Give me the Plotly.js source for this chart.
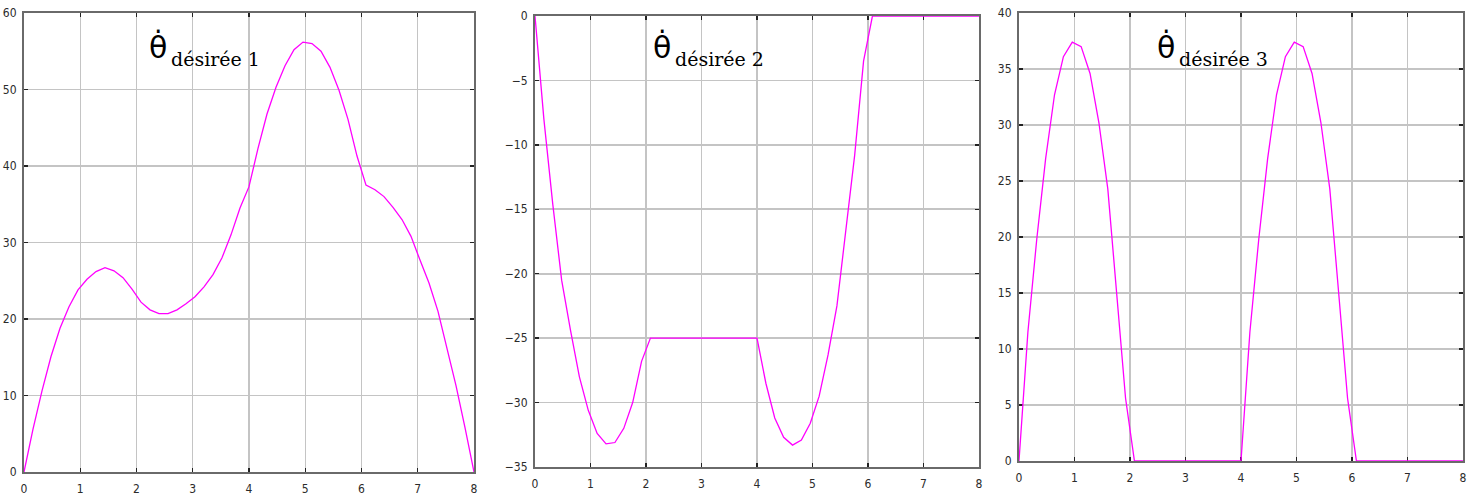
<!DOCTYPE html>
<html>
<head>
<meta charset="utf-8">
<script src="https://cdn.plot.ly/plotly-3.0.1.min.js"></script>
<style>
html,body{margin:0;padding:0;background:#fff;}
#chart{width:1471px;height:499px;}
</style>
</head>
<body>
<div id="chart"></div>
<script>
// time samples (s)
const t = [0,0.16,0.32,0.48,0.64,0.80,0.96,1.12,1.28,1.44,1.60,1.76,1.92,2.08,
  2.24,2.40,2.56,2.72,2.88,3.04,3.20,3.36,3.52,3.68,3.84,
  4.00,4.16,4.32,4.48,4.64,4.80,4.96,5.12,5.28,5.44,5.60,5.76,5.92,6.08,
  6.24,6.40,6.56,6.72,6.88,7.04,7.20,7.36,7.52,7.68,7.84,8.00];

// desired joint velocity 1
const thetaDot1 = [0,5.6,10.6,15.1,18.8,21.6,23.8,25.2,26.2,26.7,26.3,25.4,23.9,22.2,
  21.2,20.7,20.7,21.2,22.0,22.9,24.2,25.8,28.0,31.0,34.5,
  37.3,42.3,46.8,50.3,53.1,55.2,56.2,56.0,55.0,52.9,49.9,46.1,41.3,37.5,
  36.9,36.0,34.6,33.0,30.8,27.7,24.7,21.0,16.3,11.3,5.8,0];

// desired joint velocity 2
const thetaDot2 = [0,-8.0,-14.6,-20.5,-24.4,-28.0,-30.6,-32.4,-33.2,-33.1,-32.0,-30.0,-26.8,-25.0,
  -25,-25,-25,-25,-25,-25,-25,-25,-25,-25,-25,
  -25.0,-28.5,-31.2,-32.7,-33.3,-32.9,-31.6,-29.5,-26.3,-22.5,-16.8,-10.8,-3.5,0,
  0,0,0,0,0,0,0,0,0,0,0,0];

// desired joint velocity 3
const thetaDot3 = [0,11.5,19.8,27.0,32.7,36.1,37.4,37.0,34.6,30.2,24.3,15.0,5.6,0,
  0,0,0,0,0,0,0,0,0,0,0,
  0,11.5,19.8,27.0,32.7,36.1,37.4,37.0,34.6,30.2,24.3,15.0,5.6,0,
  0,0,0,0,0,0,0,0,0,0,0,0];

const xTicks = [0,1,2,3,4,5,6,7,8];
const yTicks1 = [0,10,20,30,40,50,60];
const yTicks2 = [-35,-30,-25,-20,-15,-10,-5,0];
const yTicks3 = [0,5,10,15,20,25,30,35,40];
const symbolLabel = 'θ\u0307';
const subLabels = ['désirée 1','désirée 2','désirée 3'];

const W = 1471, H = 499;
const px = v => v / W;
const py = v => 1 - v / H;

const tickFont = {family:'Liberation Sans Narrow, DejaVu Sans Condensed, Arial Narrow, sans-serif', size:12, color:'#2b2b2b'};

function xAxis(d0, d1, anchor){
  return {domain:[px(d0), px(d1)], anchor:anchor, range:[0,8], tickvals:xTicks,
    ticks:'inside', ticklen:4, tickcolor:'#222', tickwidth:1.3, mirror:'ticks',
    showline:true, linecolor:'#6a6a6a', linewidth:2, showgrid:true, gridcolor:'#c4c4c4', gridwidth:1.3,
    zeroline:false, tickfont:tickFont, ticklabelstandoff:5, layer:'below traces', fixedrange:true};
}
function yAxis(d0, d1, anchor, rng, vals){
  return {domain:[py(d1), py(d0)], anchor:anchor, range:rng, tickvals:vals,
    ticks:'inside', ticklen:4, tickcolor:'#222', tickwidth:1.3, mirror:'ticks',
    showline:true, linecolor:'#6a6a6a', linewidth:2, showgrid:true, gridcolor:'#c4c4c4', gridwidth:1.6,
    zeroline:false, tickfont:tickFont, ticklabelstandoff:3, layer:'below traces', fixedrange:true};
}

const lineStyle = {color:'#ff00ff', width:1.3};
const data = [
  {x:t, y:thetaDot1, type:'scatter', mode:'lines', line:lineStyle, xaxis:'x', yaxis:'y', hoverinfo:'skip'},
  {x:t, y:thetaDot2, type:'scatter', mode:'lines', line:lineStyle, xaxis:'x2', yaxis:'y2', hoverinfo:'skip'},
  {x:t, y:thetaDot3, type:'scatter', mode:'lines', line:lineStyle, xaxis:'x3', yaxis:'y3', hoverinfo:'skip'}
];

const thetaX = [157.5, 662, 1166];
const subX = [169, 673, 1177];
const annotations = [];
for (let i = 0; i < 3; i++) {
  annotations.push({xref:'paper', yref:'paper', x:px(thetaX[i]), y:py(47), xanchor:'center', yanchor:'middle',
    text:symbolLabel, showarrow:false, font:{family:'DejaVu Sans, sans-serif', size:30, color:'#000'}});
  annotations.push({xref:'paper', yref:'paper', x:px(subX[i]), y:py(59), xanchor:'left', yanchor:'middle',
    text:subLabels[i], showarrow:false, font:{family:'DejaVu Serif, serif', size:19, color:'#000'}});
}

const layout = {
  width:W, height:H, margin:{l:0,r:0,t:0,b:0},
  paper_bgcolor:'#fff', plot_bgcolor:'#fff', showlegend:false,
  xaxis: xAxis(24, 474, 'y'),
  yaxis: yAxis(13, 472, 'x', [0,60], yTicks1),
  xaxis2: xAxis(535, 979, 'y2'),
  yaxis2: yAxis(16, 467, 'x2', [-35,0], yTicks2),
  xaxis3: xAxis(1019, 1463, 'y3'),
  yaxis3: yAxis(13, 461, 'x3', [0,40], yTicks3),
  annotations: annotations
};

Plotly.newPlot('chart', data, layout, {staticPlot:true, displayModeBar:false});
</script>
</body>
</html>
